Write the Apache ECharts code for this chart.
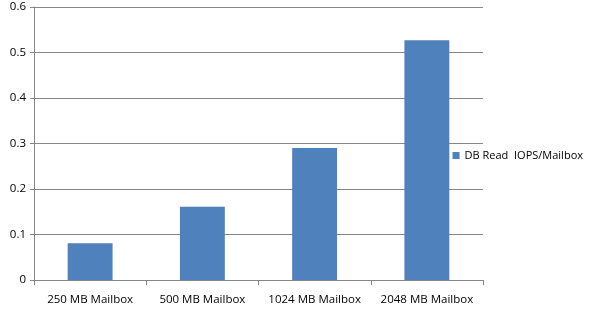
<!DOCTYPE html>
<html><head><meta charset="utf-8">
<script src="https://cdn.jsdelivr.net/npm/echarts@6/dist/echarts.min.js"></script>
<style>html,body{margin:0;padding:0;background:#fff}#c{width:592px;height:311px}</style>
</head><body><div id="c"></div>
<script>
const categories = ['250 MB Mailbox', '500 MB Mailbox', '1024 MB Mailbox', '2048 MB Mailbox'];
const seriesName = 'DB Read  IOPS/Mailbox';
const values = [0.081, 0.161, 0.290, 0.527];
const chart = echarts.init(document.getElementById('c'), null, {renderer: 'canvas'});
const font = '"Open Sans", "Noto Sans", sans-serif';
chart.setOption({
  animation: false,
  textStyle: {fontFamily: font},
  grid: {left: 34, right: 109, top: 7, bottom: 31, containLabel: false},
  legend: {
    orient: 'vertical', right: 4, top: 'middle',
    itemWidth: 7, itemHeight: 7, itemGap: 4, icon: 'rect',
    textStyle: {fontSize: 11, color: '#000', fontFamily: font},
    data: [seriesName]
  },
  xAxis: {
    type: 'category', data: categories,
    axisLine: {lineStyle: {color: '#868686'}},
    axisTick: {show: true, length: 5, lineStyle: {color: '#868686'}, alignWithLabel: false},
    axisLabel: {color: '#000', fontSize: 11.5, margin: 14, fontFamily: font, interval: 0}
  },
  yAxis: {
    type: 'value', min: 0, max: 0.6, interval: 0.1,
    axisLine: {show: true, lineStyle: {color: '#868686'}},
    axisTick: {show: true, length: 4, lineStyle: {color: '#868686'}},
    splitLine: {lineStyle: {color: '#868686'}},
    axisLabel: {color: '#000', fontSize: 11.5, margin: 8, fontFamily: font}
  },
  series: [{
    name: seriesName, type: 'bar', data: values, barWidth: '40%',
    itemStyle: {color: '#4f81bd'}
  }]
});
</script></body></html>
